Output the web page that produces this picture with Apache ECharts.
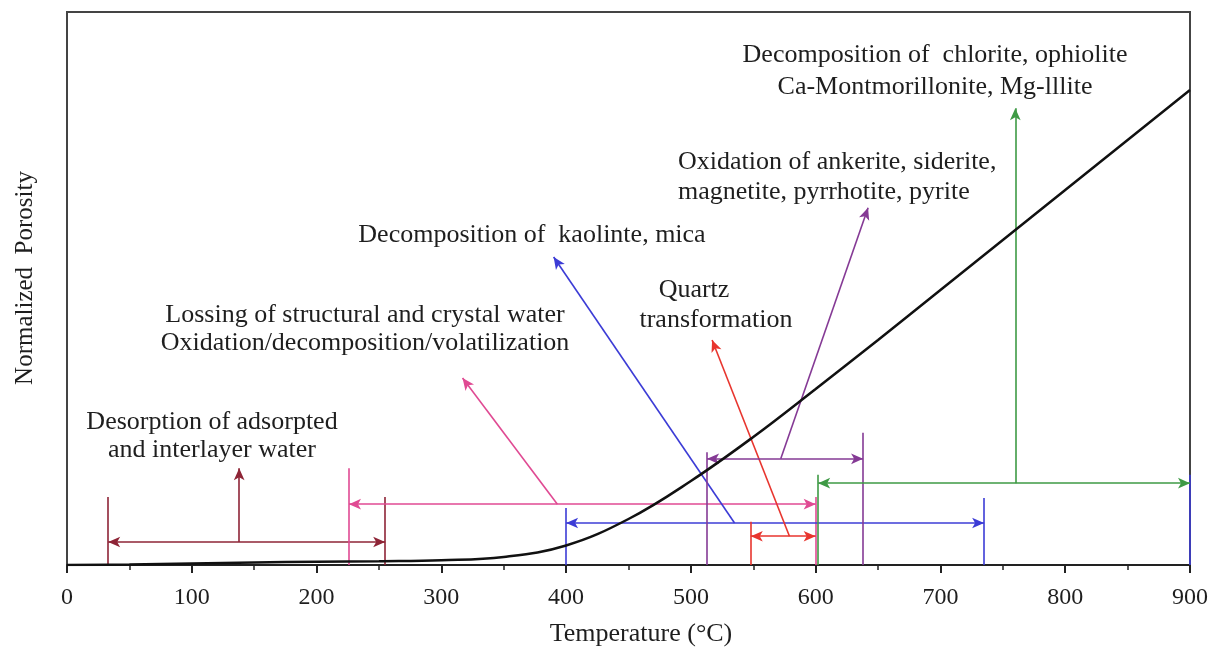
<!DOCTYPE html>
<html>
<head>
<meta charset="utf-8">
<script src="https://cdn.jsdelivr.net/npm/echarts@6/dist/echarts.min.js"></script>
<style>
html,body{margin:0;padding:0;background:#fff;}
#chart{width:1218px;height:648px;}
</style>
</head>
<body>
<div id="chart"></div>
<script>
// ---- data ----
const temperature = [0, 50, 100, 150, 200, 250, 300, 350, 400, 450, 500, 550, 600, 650, 700, 750, 800, 850, 900];
const porosity = [0, 0.0009, 0.0027, 0.0045, 0.0058, 0.0068, 0.0085, 0.0145, 0.0353, 0.0832, 0.1519, 0.2315, 0.3183, 0.4069, 0.4973, 0.5877, 0.6781, 0.7685, 0.859];
const xTicks = [0, 100, 200, 300, 400, 500, 600, 700, 800, 900];

// temperature ranges of each process (°C)
const rangeStart = [33, 226, 400, 548, 513, 602];
const rangeEnd = [255, 600, 735, 600, 638, 900];
// temperatures where the pointer arrows leave the range bar and where they end
const pointerFrom = [138, 393, 535, 579, 572, 760];
const pointerTo = [138, 317, 390, 517, 642, 760];

const labelTexts = [
  'Desorption of adsorpted\nand interlayer water',
  'Lossing of structural and crystal water\nOxidation/decomposition/volatilization',
  'Decomposition of  kaolinte, mica',
  'Quartz',
  'transformation',
  'Oxidation of ankerite, siderite,\nmagnetite, pyrrhotite, pyrite',
  'Decomposition of  chlorite, ophiolite\nCa-Montmorillonite, Mg-lllite'
];

// ---- styling / layout (not data) ----
const colors = ['#8E2436', '#E04A93', '#3C3CD6', '#E8352E', '#853A95', '#3E9A45'];
const barLevel = [0.0416, 0.110, 0.076, 0.052, 0.192, 0.148];
const startTickTop = [0.123, 0.175, 0.103, 0.078, 0.204, 0.163];
const endTickTop = [0.123, 0.123, 0.121, null, 0.239, null];
const pointerTop = [0.175, 0.338, 0.557, 0.407, 0.646, 0.826];

const AS = [8, 12];
function seg(x1, y1, x2, y2, s1, s2) {
  return [{coord: [x1, y1], symbol: s1 || 'none', symbolSize: AS},
          {coord: [x2, y2], symbol: s2 || 'none', symbolSize: AS}];
}

const annotSeries = colors.map((c, i) => {
  const d = [];
  d.push(seg(rangeStart[i], 0, rangeStart[i], startTickTop[i]));
  if (endTickTop[i] !== null) d.push(seg(rangeEnd[i], 0, rangeEnd[i], endTickTop[i]));
  d.push(seg(rangeStart[i], barLevel[i], rangeEnd[i], barLevel[i], 'arrow', 'arrow'));
  d.push(seg(pointerFrom[i], barLevel[i], pointerTo[i], pointerTop[i], 'none', 'arrow'));
  if (i === 2) d.push(seg(900, 0, 900, 0.163));
  return {
    type: 'line', data: [], silent: true, z: 3,
    markLine: {
      silent: true, animation: false,
      symbol: ['none', 'none'],
      label: {show: false},
      emphasis: {disabled: true},
      lineStyle: {color: c, width: 1.6, type: 'solid'},
      data: d
    }
  };
});

const serif = '"Liberation Serif", "Times New Roman", serif';
const txtColor = '#1e1e1e';
function label(text, x, y, align, lh) {
  return {
    type: 'text', x: x, y: y, z: 10,
    style: {text: text, font: '26px ' + serif, fill: txtColor,
            align: align || 'center', verticalAlign: 'middle', lineHeight: lh || 28}
  };
}

const chart = echarts.init(document.getElementById('chart'), null, {renderer: 'canvas'});
chart.setOption({
  animation: false,
  backgroundColor: '#fff',
  grid: {left: 67, right: 28, top: 12, bottom: 83, show: true, borderColor: '#444', borderWidth: 2,
         containLabel: false, outerBoundsMode: 'none'},
  xAxis: {
    type: 'value', min: 0, max: 900, interval: 100,
    axisLine: {show: true, onZero: false, lineStyle: {color: '#222', width: 2}},
    axisTick: {show: true, inside: false, length: 8, lineStyle: {color: '#222', width: 2}},
    minorTick: {show: true, splitNumber: 2, length: 5, lineStyle: {color: '#222', width: 1.5}},
    splitLine: {show: false},
    axisLabel: {margin: 21, fontSize: 24, fontFamily: serif, color: txtColor,
                formatter: v => xTicks.includes(v) ? String(v) : ''},
    name: 'Temperature (°C)', nameLocation: 'middle', nameGap: 56,
    nameTextStyle: {fontSize: 26, fontFamily: serif, color: txtColor, padding: [0, 0, 0, 25]}
  },
  yAxis: {
    type: 'value', min: 0, max: 1,
    axisLine: {show: true, lineStyle: {color: '#444', width: 2}},
    axisTick: {show: false}, axisLabel: {show: false}, splitLine: {show: false}
  },
  graphic: [
    label(labelTexts[0], 212, 436),
    label(labelTexts[1], 365, 329),
    label(labelTexts[2], 532, 235),
    label(labelTexts[3], 694, 290),
    label(labelTexts[4], 716, 320),
    label(labelTexts[5], 678, 177, 'left', 30),
    label(labelTexts[6], 935, 71, 'center', 32),
    {type: 'text', x: 25, y: 278, rotation: Math.PI / 2, z: 10,
     style: {text: 'Normalized  Porosity', font: '25px ' + serif, fill: txtColor, align: 'center', verticalAlign: 'middle'}}
  ],
  series: [{
    type: 'line', name: 'Normalized Porosity', smooth: 0.4, showSymbol: false, z: 5,
    data: temperature.map((t, i) => [t, porosity[i]]),
    lineStyle: {color: '#111', width: 2.5}
  }].concat(annotSeries)
});
</script>
</body>
</html>
